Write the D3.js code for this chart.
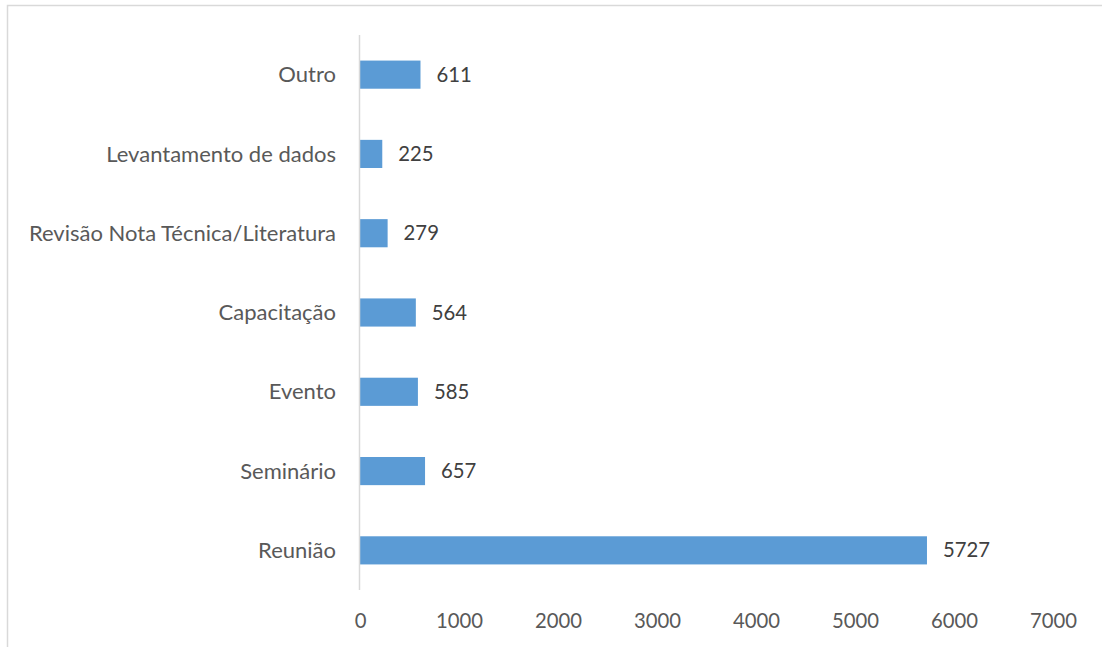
<!DOCTYPE html>
<html><head><meta charset="utf-8">
<script src="https://cdn.jsdelivr.net/npm/d3@7"></script>
<style>
html,body{margin:0;padding:0;background:#fff;}
svg{display:block;}
text{font-family:Lato,"Open Sans",sans-serif;}
</style></head>
<body>
<svg id="chart" width="1102" height="647"></svg>
<script>
const categories = ["Outro","Levantamento de dados","Revisão Nota Técnica/Literatura","Capacitação","Evento","Seminário","Reunião"];
const values = [611,225,279,564,585,657,5727];
const xTicks = [0,1000,2000,3000,4000,5000,6000,7000];

const svg = d3.select("#chart");
svg.append("rect").attr("x",7.5).attr("y",5.5).attr("width",1110).attr("height",660)
  .attr("fill","none").attr("stroke","#d9d9d9").attr("stroke-width",1.5);

const x = d3.scaleLinear().domain([0,7000]).range([360,1053]);
const y = d3.scaleBand().domain(categories).range([35,590]).paddingInner(0.645).paddingOuter(0.3225);

const data = categories.map((c,i)=>({c,v:values[i]}));

svg.selectAll("rect.bar").data(data).enter().append("rect").attr("class","bar")
  .attr("x",x(0)).attr("y",d=>y(d.c)).attr("width",d=>x(d.v)-x(0)).attr("height",y.bandwidth())
  .attr("fill","#5b9bd5");

svg.append("line").attr("x1",359.5).attr("x2",359.5).attr("y1",35).attr("y2",590)
  .attr("stroke","#d9d9d9").attr("stroke-width",1.5);

svg.selectAll("text.cat").data(data).enter().append("text").attr("class","cat")
  .attr("x",336).attr("y",d=>y(d.c)+y.bandwidth()/2).attr("dy","0.35em")
  .attr("text-anchor","end").attr("font-size",22).attr("fill","#595959").text(d=>d.c);

svg.selectAll("text.val").data(data).enter().append("text").attr("class","val")
  .attr("x",d=>x(d.v)+16).attr("y",d=>y(d.c)+y.bandwidth()/2).attr("dy","0.35em")
  .attr("font-size",20.3).attr("fill","#404040").text(d=>d.v);

const ax = svg.append("g").attr("transform","translate(0,590)")
  .call(d3.axisBottom(x).tickValues(xTicks).tickSize(0).tickPadding(24).tickFormat(d3.format("d")));
ax.select(".domain").remove();
ax.selectAll("text").attr("font-size",20.3).attr("fill","#595959").attr("font-family","Lato,'Open Sans',sans-serif");
</script>
</body></html>
